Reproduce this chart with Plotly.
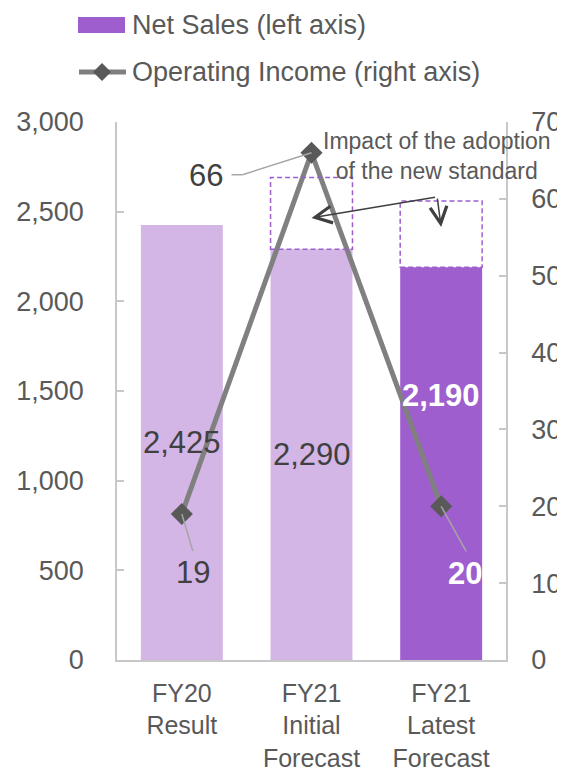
import plotly.graph_objects as go

# ---------------- data ----------------
categories = ["FY20<br>Result", "FY21<br>Initial<br>Forecast", "FY21<br>Latest<br>Forecast"]
net_sales = [2425, 2290, 2190]                 # left axis
net_sales_before_standard = [None, 2690, 2560]  # top of dashed boxes (before adoption of new standard)
operating_income = [19, 66, 20]                # right axis
sales_labels = ["2,425", "2,290", "2,190"]
income_labels = ["19", "66", "20"]
left_ticks = [0, 500, 1000, 1500, 2000, 2500, 3000]
right_ticks = [0, 10, 20, 30, 40, 50, 60, 70]

LIGHT = "#D3B5E6"
DARK = "#9E5ECE"
bar_colors = [LIGHT, LIGHT, DARK]
FONT = "Liberation Sans, Arial, sans-serif"
TXT = "#595959"
LBL = "#404040"
AXC = "#C8C8C8"

OFF = 8  # page body margin
W, H = 565 - OFF, 769 - OFF
ML, MT = 117 - OFF, 122 - OFF
MR, MB = W - (506 - OFF), H - (660 - OFF)
PW, PH = W - ML - MR, H - MT - MB
BARW = 0.632

def px(x):
    return (x - OFF - ML) / PW

def py(y):
    return (H - MB - (y - OFF)) / PH

fig = go.Figure()
fig.add_trace(go.Bar(x=categories, y=net_sales, marker=dict(color=bar_colors, line_width=0),
                     width=BARW, hoverinfo="skip"))
fig.add_trace(go.Scatter(x=categories, y=operating_income, yaxis="y2", mode="lines+markers",
                         line=dict(color="#808080", width=5),
                         marker=dict(symbol="diamond", size=17, color="#595959"),
                         hoverinfo="skip"))

shapes = []
annotations = []

# dashed boxes (impact of new standard)
for i, (v, top) in enumerate(zip(net_sales, net_sales_before_standard)):
    if top is None:
        continue
    shapes.append(dict(type="rect", xref="x", yref="y", x0=i - BARW / 2, x1=i + BARW / 2,
                       y0=v, y1=top, line=dict(color=DARK, width=1.5, dash="5px,3px"),
                       fillcolor="rgba(0,0,0,0)", layer="above"))

# net sales labels
label_shift = [0, 0, 68]
label_color = [LBL, LBL, "white"]
label_bold = [False, False, True]
for i, (v, t) in enumerate(zip(net_sales, sales_labels)):
    annotations.append(dict(x=i, y=v / 2, xref="x", yref="y", text=t, showarrow=False,
                            yshift=label_shift[i], xanchor="center", yanchor="middle",
                            font=dict(family=FONT, size=31, color=label_color[i],
                                      weight="bold" if label_bold[i] else "normal")))

# operating income labels with leader lines
inc_offsets = [(11, -59), (-106, -23), (24, -67)]
inc_color = [LBL, LBL, "white"]
inc_bold = [False, False, True]
leader_paths = [[(0, 0), (11, -37)], [(0, 0), (-69, -22), (-80, -22)], [(0, 0), (25, -45)]]
for i, (v, t) in enumerate(zip(operating_income, income_labels)):
    dx, dy = inc_offsets[i]
    annotations.append(dict(x=i, y=v, xref="x", yref="y2", text=t, showarrow=False,
                            xshift=dx, yshift=dy, xanchor="center", yanchor="middle",
                            font=dict(family=FONT, size=31, color=inc_color[i],
                                      weight="bold" if inc_bold[i] else "normal")))
    pts = leader_paths[i]
    for (ax0, ay0), (ax1, ay1) in zip(pts[:-1], pts[1:]):
        shapes.append(dict(type="line", xref="x", yref="y2", xsizemode="pixel", ysizemode="pixel",
                           xanchor=i, yanchor=v, x0=ax0, x1=ax1, y0=ay0, y1=ay1,
                           line=dict(color="#A6A6A6", width=1.5), layer="above"))

# impact annotation text
annotations.append(dict(x=px(437), y=py(156), xref="paper", yref="paper",
                        xanchor="center", yanchor="middle",
                        text="Impact of the adoption<br>of the new standard", showarrow=False,
                        font=dict(family=FONT, size=23, color=TXT), align="center"))
# arrows
annotations.append(dict(x=1, y=2465, xref="x", yref="y", text="", showarrow=True,
                        ax=125, ay=-21, arrowhead=5, arrowsize=2.2, arrowwidth=1.5,
                        arrowcolor="#404040"))
annotations.append(dict(x=2, y=2414, xref="x", yref="y", text="", showarrow=True,
                        ax=-4, ay=-30, arrowhead=5, arrowsize=2.2, arrowwidth=1.5,
                        arrowcolor="#404040"))

# manual legend
shapes.append(dict(type="rect", xref="paper", yref="paper", x0=px(78), x1=px(125),
                   y0=py(33), y1=py(17), fillcolor=DARK, line_width=0))
shapes.append(dict(type="line", xref="paper", yref="paper", x0=px(79), x1=px(126),
                   y0=py(72), y1=py(72), line=dict(color="#808080", width=5)))
cx, cy, r = 102, 72, 9
shapes.append(dict(type="path", xref="paper", yref="paper",
                   path=f"M {px(cx - r)} {py(cy)} L {px(cx)} {py(cy - r)} L {px(cx + r)} {py(cy)} L {px(cx)} {py(cy + r)} Z",
                   fillcolor="#595959", line_width=0))
annotations.append(dict(x=px(130), y=py(25), xref="paper", yref="paper", xanchor="left",
                        yanchor="middle", text="Net Sales (left axis)", showarrow=False,
                        font=dict(family=FONT, size=27, color=TXT)))
annotations.append(dict(x=px(130), y=py(72), xref="paper", yref="paper", xanchor="left",
                        yanchor="middle", text="Operating Income (right axis)", showarrow=False,
                        font=dict(family=FONT, size=27, color=TXT)))

fig.update_layout(
    width=W, height=H, margin=dict(l=ML, r=MR, t=MT, b=MB, autoexpand=False),
    paper_bgcolor="white", plot_bgcolor="white", showlegend=False,
    font=dict(family=FONT, size=27, color=TXT),
    xaxis=dict(type="category", showline=True, linecolor=AXC, linewidth=1.5, ticks="",
               showgrid=False, automargin=False, ticklabelstandoff=10,
               tickfont=dict(size=25, color=TXT)),
    yaxis=dict(range=[0, 3000], tickvals=left_ticks, tickformat=",", showline=True,
               linecolor=AXC, linewidth=1.5, ticks="inside", ticklen=7, tickcolor=AXC,
               tickwidth=1.5, showgrid=False, zeroline=False, ticklabelstandoff=26,
               automargin=False, tickfont=dict(size=27, color=TXT)),
    yaxis2=dict(range=[0, 70], tickvals=right_ticks, overlaying="y", side="right",
                showline=True, linecolor=AXC, linewidth=1.5, ticks="inside", ticklen=7,
                tickcolor=AXC, tickwidth=1.5, showgrid=False, zeroline=False,
                ticklabelstandoff=18, automargin=False, tickfont=dict(size=27, color=TXT)),
    shapes=shapes, annotations=annotations, hovermode=False,
)

fig.write_html("out.html")
